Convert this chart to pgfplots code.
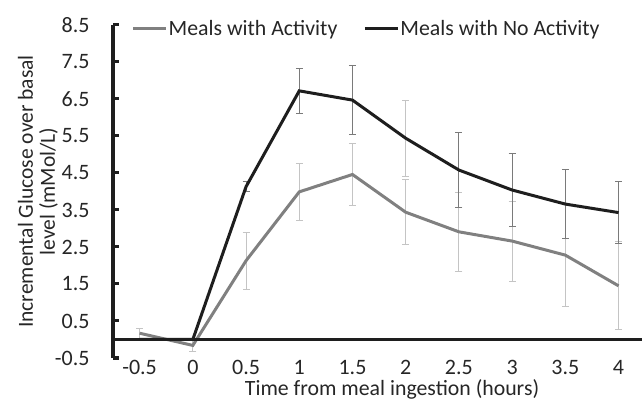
\documentclass[border=0pt]{standalone}
\usepackage{pgfplots}
\usepackage{pgfplotstable}
\pgfplotsset{compat=1.18}
\usepackage{fontspec}
\setmainfont{Carlito}
\definecolor{lineblack}{HTML}{1E1E1E}
\definecolor{linegray}{HTML}{808080}
\definecolor{errdark}{HTML}{7A7A7A}
\definecolor{errlight}{HTML}{C4C4C4}

% x = category index (0 = -0.5 h, 1 = 0 h, ..., 9 = 4 h)
\pgfplotstableread{
x y e
0 0.17 0.14
1 -0.16 0.17
2 2.13 0.77
3 3.99 0.78
4 4.46 0.84
5 3.44 0.88
6 2.91 1.06
7 2.66 1.08
8 2.28 1.38
9 1.45 1.19
}\activity
\pgfplotstableread{
x y
0 0.00
1 0.00
2 4.13
3 6.72
4 6.47
5 5.44
6 4.58
7 4.04
8 3.66
9 3.43
}\noactivity
\pgfplotstableread{
x y e
2 4.13 0.14
3 6.72 0.61
4 6.47 0.93
6 4.58 1.01
7 4.04 0.99
8 3.66 0.94
9 3.43 0.84
}\noactdark
\pgfplotstableread{
x y e
5 5.44 1.03
}\noactlight

\begin{document}
\begin{tikzpicture}
\useasboundingbox (0,0) rectangle (642bp,401bp);
\clip (0,0) rectangle (642bp,401bp);
\begin{axis}[
  at={(113bp,43bp)}, anchor=south west,
  scale only axis,
  width=529.5bp, height=333bp,
  xmin=-0.5, xmax=9.45,
  ymin=-0.5, ymax=8.5,
  axis y line=left,
  axis x line=middle,
  hide obscured x ticks=false,
  x axis line style={-, line width=3.5bp, color=lineblack},
  y axis line style={-, line width=3.5bp, color=lineblack},
  axis on top,
  clip=false,
  tick align=inside,
  xtick={0,...,9},
  xticklabels={-0.5,0,0.5,1,1.5,2,2.5,3,3.5,4},
  major x tick style={draw=none},
  extra x ticks={0.5,1.5,...,8.5},
  extra x tick labels={},
  extra x tick style={major tick length=6bp, tick style={line width=3bp, color=lineblack}},
  ytick={-0.5,0.5,...,8.5},
  yticklabels={-0.5,0.5,1.5,2.5,3.5,4.5,5.5,6.5,7.5,8.5},
  major tick length=6bp,
  y tick style={line width=3bp, color=lineblack},
  ticklabel style={font=\fontsize{22bp}{24bp}\selectfont, text=black!85},
  yticklabel style={xshift=-20bp},
  xticklabel style={inner sep=0pt, yshift=-21bp},
  xlabel={Time from meal ingestion (hours)},
  ylabel={Incremental Glucose over basal\\level (mMol/L)},
  every axis x label/.style={at={(axis description cs:0.527,-0.113)}, anchor=base, inner sep=0pt, font=\fontsize{21.8bp}{24bp}\selectfont, text=black!85},
  every axis y label/.style={at={(axis description cs:-0.1416,0.5)}, rotate=90, anchor=center, align=center, font=\fontsize{21.5bp}{22bp}\selectfont, text=black!85},
  legend columns=2,
  legend style={at={(axis description cs:0.035,0.99)}, anchor=west, draw=none, fill=none,
    inner sep=0pt, font=\fontsize{21.8bp}{24bp}\selectfont, text=black!85,
    /tikz/every even column/.append style={column sep=25bp},
    nodes={inner sep=1bp}},
  legend image code/.code={\draw[#1] (0bp,0bp) -- (33bp,0bp);},
]
% Activity error bars
\addplot[forget plot, draw=none, mark=none,
  error bars/.cd, y dir=both, y explicit,
  error bar style={line width=1bp, draw=errlight},
  error mark options={rotate=90, mark size=3.5bp, line width=1bp, draw=errlight}]
  table[x=x, y=y, y error=e]{\activity};
% No activity error bars
\addplot[forget plot, draw=none, mark=none,
  error bars/.cd, y dir=both, y explicit,
  error bar style={line width=1bp, draw=errdark},
  error mark options={rotate=90, mark size=3.5bp, line width=1bp, draw=errdark}]
  table[x=x, y=y, y error=e]{\noactdark};
\addplot[forget plot, draw=none, mark=none,
  error bars/.cd, y dir=both, y explicit,
  error bar style={line width=1.5bp, draw=errlight},
  error mark options={rotate=90, mark size=3.5bp, line width=1bp, draw=errlight}]
  table[x=x, y=y, y error=e]{\noactlight};
% lines
\addplot[color=linegray, line width=3bp, mark=none] table[x=x, y=y]{\activity};
\addlegendentry{Meals with Activity}
\addplot[color=lineblack, line width=3bp, mark=none] table[x=x, y=y]{\noactivity};
\addlegendentry{Meals with No Activity}
\end{axis}
\end{tikzpicture}
\end{document}
